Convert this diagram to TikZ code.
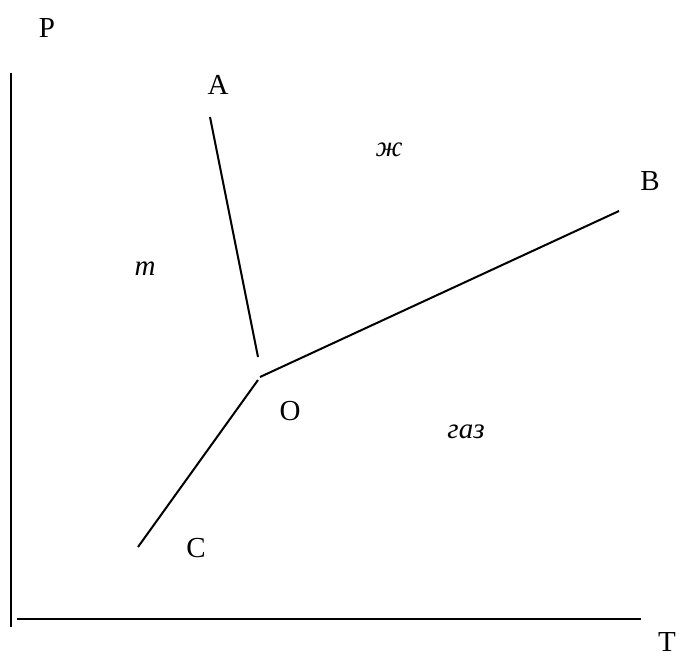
\documentclass[tikz,border=0pt]{standalone}
\usepackage{fontspec}
\setmainfont{Liberation Serif}
\usepackage{tikz}
\tikzstyle{lbl} = [inner sep=0pt, anchor=base, font=\fontsize{29}{34}\selectfont]
\tikzstyle{phase} = [lbl, font=\fontsize{29}{34}\selectfont\itshape]
\tikzstyle{curve} = [line width=2pt]
\tikzstyle{axis} = [line width=2.2pt]

\begin{document}
\begin{tikzpicture}[x=1pt, y=-1pt]
    \useasboundingbox (0,0) rectangle (680,658);

    % axes
    \coordinate (ptop) at (11,73);
    \coordinate (pbot) at (11,627);
    \coordinate (tleft) at (17,619);
    \coordinate (tright) at (641,619);
    \draw [axis] (ptop) -- (pbot);
    \draw [axis] (tleft) -- (tright);
    \node [lbl] (plabel) at (47,38) {P};
    \node [lbl] (tlabel) at (667,651) {T};

    % phase boundaries
    \coordinate (aend) at (210,117);
    \coordinate (ao) at (258,357);
    \coordinate (bo) at (260,377);
    \coordinate (bend) at (619,211);
    \coordinate (co) at (258,380);
    \coordinate (cend) at (138,547);
    \draw [curve] (aend) -- (ao);
    \draw [curve] (bo) -- (bend);
    \draw [curve] (co) -- (cend);

    \node [lbl] (alabel) at (218,95) {A};
    \node [lbl] (blabel) at (650,190) {B};
    \node [lbl] (clabel) at (196,557) {C};
    \node [lbl] (olabel) at (290,420) {O};

    % phases
    \node [phase] (liquid) at (389,157) {ж};
    \node [phase] (solid) at (145,275) {т};
    \node [phase] (gas) at (466,438) {газ};
\end{tikzpicture}
\end{document}
